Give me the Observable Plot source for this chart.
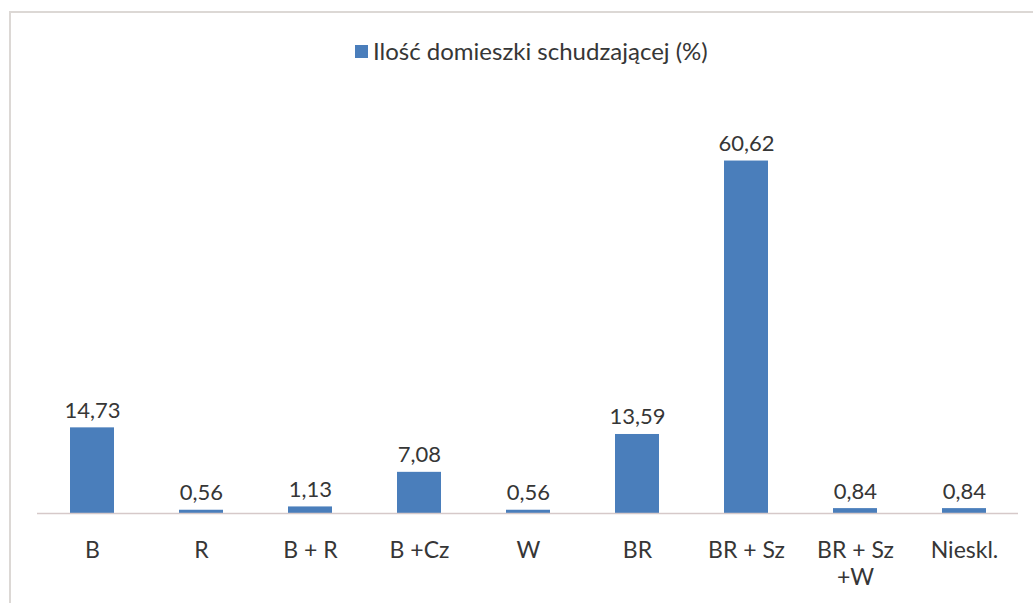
<!DOCTYPE html>
<html>
<head>
<meta charset="utf-8">
<script src="https://cdn.jsdelivr.net/npm/d3@7"></script>
<script src="https://cdn.jsdelivr.net/npm/@observablehq/plot@0.6"></script>
<style>
  html, body { margin: 0; padding: 0; background: #fff; overflow: hidden; }
  #wrap { position: relative; width: 1033px; height: 603px; font-family: Lato, "Open Sans", sans-serif; color: #363636; }
  #frame { position: absolute; left: 9px; top: 11px; width: 1100px; height: 700px; border: 2px solid #dcd8d5; box-sizing: border-box; }
  #legend { position: absolute; left: 0; top: 0; width: 1033px; height: 70px; }
  #legend .sw { position: absolute; left: 355px; top: 45px; width: 13px; height: 13px; background: #4a7ebb; }
  #legend .lt { position: absolute; left: 373px; top: 36px; font-size: 24px; line-height: 30px; white-space: nowrap; }
  #chart { position: absolute; left: 0; top: 70px; }
</style>
</head>
<body>
<div id="wrap">
  <div id="frame"></div>
  <div id="legend"><div class="sw"></div><div class="lt">Ilość domieszki schudzającej (%)</div></div>
  <div id="chart"></div>
</div>
<script>
const categories = ["B", "R", "B + R", "B +Cz", "W", "BR", "BR + Sz", "BR + Sz\n+W", "Nieskl."];
const values = [14.73, 0.56, 1.13, 7.08, 0.56, 13.59, 60.62, 0.84, 0.84];
const seriesName = "Ilość domieszki schudzającej (%)";

const data = categories.map((c, i) => ({category: c, value: values[i]}));
const fmt = v => v.toFixed(2).replace(".", ",");

const plot = Plot.plot({
  width: 1033,
  height: 533,
  marginLeft: 37,
  marginRight: 15,
  marginTop: 36,
  marginBottom: 90,
  style: {fontFamily: "Lato, 'Open Sans', sans-serif", fontSize: "22px", color: "#363636", background: "transparent", overflow: "visible"},
  x: {domain: categories, paddingInner: 0.6, paddingOuter: 0.3, label: null},
  y: {domain: [0, 70], axis: null},
  marks: [
    Plot.barY(data, {x: "category", y: "value", fill: "#4a7ebb"}),
    Plot.ruleY([0], {stroke: "#d6c9c9", strokeWidth: 1.5}),
    Plot.text(data, {x: "category", y: "value", text: d => fmt(d.value), lineAnchor: "bottom", dy: -10, fontSize: 22, fill: "#363636"}),
    Plot.axisX({tickSize: 0, tickPadding: 26, fontSize: 23, label: null, lineHeight: 1.15, fill: "#363636"})
  ]
});
document.getElementById("chart").appendChild(plot);
</script>
</body>
</html>
